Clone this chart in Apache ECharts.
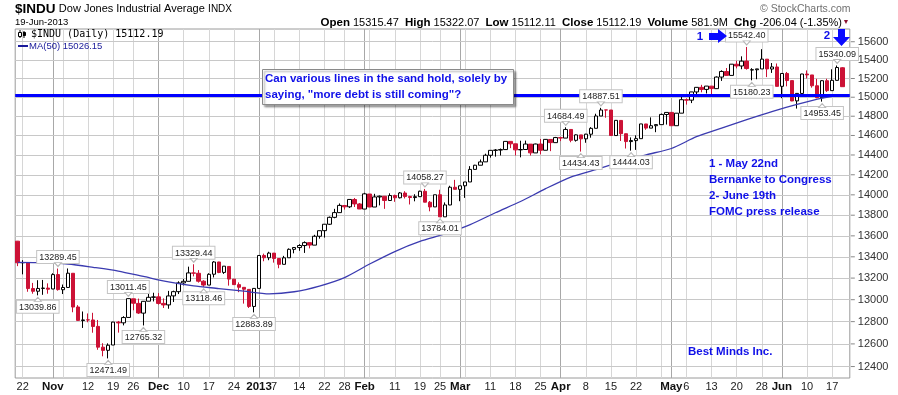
<!DOCTYPE html>
<html><head><meta charset="utf-8">
<script src="https://cdn.jsdelivr.net/npm/echarts@6/dist/echarts.min.js"></script>
<style>html,body{margin:0;padding:0;background:#fff}#c{width:898px;height:395px}</style>
</head><body><div id="c"></div>
<script>
const dates = [
'2012-10-19','2012-10-22','2012-10-23','2012-10-24','2012-10-25','2012-10-26','2012-10-31','2012-11-01','2012-11-02','2012-11-05',
'2012-11-06','2012-11-07','2012-11-08','2012-11-09','2012-11-12','2012-11-13','2012-11-14','2012-11-15','2012-11-16','2012-11-19',
'2012-11-20','2012-11-21','2012-11-23','2012-11-26','2012-11-27','2012-11-28','2012-11-29','2012-11-30','2012-12-03','2012-12-04',
'2012-12-05','2012-12-06','2012-12-07','2012-12-10','2012-12-11','2012-12-12','2012-12-13','2012-12-14','2012-12-17','2012-12-18',
'2012-12-19','2012-12-20','2012-12-21','2012-12-24','2012-12-26','2012-12-27','2012-12-28','2012-12-31','2013-01-02','2013-01-03',
'2013-01-04','2013-01-07','2013-01-08','2013-01-09','2013-01-10','2013-01-11','2013-01-14','2013-01-15','2013-01-16','2013-01-17',
'2013-01-18','2013-01-22','2013-01-23','2013-01-24','2013-01-25','2013-01-28','2013-01-29','2013-01-30','2013-01-31','2013-02-01',
'2013-02-04','2013-02-05','2013-02-06','2013-02-07','2013-02-08','2013-02-11','2013-02-12','2013-02-13','2013-02-14','2013-02-15',
'2013-02-19','2013-02-20','2013-02-21','2013-02-22','2013-02-25','2013-02-26','2013-02-27','2013-02-28','2013-03-01','2013-03-04',
'2013-03-05','2013-03-06','2013-03-07','2013-03-08','2013-03-11','2013-03-12','2013-03-13','2013-03-14','2013-03-15','2013-03-18',
'2013-03-19','2013-03-20','2013-03-21','2013-03-22','2013-03-25','2013-03-26','2013-03-27','2013-03-28','2013-04-01','2013-04-02',
'2013-04-03','2013-04-04','2013-04-05','2013-04-08','2013-04-09','2013-04-10','2013-04-11','2013-04-12','2013-04-15','2013-04-16',
'2013-04-17','2013-04-18','2013-04-19','2013-04-22','2013-04-23','2013-04-24','2013-04-25','2013-04-26','2013-04-29','2013-04-30',
'2013-05-01','2013-05-02','2013-05-03','2013-05-06','2013-05-07','2013-05-08','2013-05-09','2013-05-10','2013-05-13','2013-05-14',
'2013-05-15','2013-05-16','2013-05-17','2013-05-20','2013-05-21','2013-05-22','2013-05-23','2013-05-24','2013-05-28','2013-05-29',
'2013-05-30','2013-05-31','2013-06-03','2013-06-04','2013-06-05','2013-06-06','2013-06-07','2013-06-10','2013-06-11','2013-06-12',
'2013-06-13','2013-06-14','2013-06-17','2013-06-18','2013-06-19'];

const open = [
13548.9,13344,13344,13103,13078,13104,13107,13099,13233,13092,
13113,13245,12933,12810,12816,12815,12757,12571,12543,12590,
12795,12789,12838,13008,12966,12877,12986,13022,13026,12966,
12952,13035,13074,13155,13170,13248.5,13245,13171,13135,13236,
13351,13253,13309,13190,13139,13114,13095,12938,13104,13413,
13391,13435,13384,13329,13391,13471,13488,13507,13535,13511,
13596,13650,13712,13779,13825,13895,13882,13954,13910,13860,
14008,13880,13979,13986,13944,13993,13971,14018,13983,13973,
13982,14035,13927,13881,14001,13784,13900,14075,14054,14090,
14128,14254,14296,14330,14397,14447,14450,14455,14539,14514,
14452,14456,14511,14421,14512,14448,14559,14526,14578,14573,
14662,14550,14606,14565,14613,14674,14802,14866,14865,14599,
14756,14618,14537,14547,14567,14719,14676,14701,14712,14818,
14840,14701,14832,14974,14969,15056,15105,15083,15118,15091,
15215,15275,15233,15354,15335,15388,15291,15294,15303,15409,
15302,15324,15116,15254,15177,14961,15040,15248,15238,15122,
14995,15176,15070,15180,15315.47];

const high = [
13551,13368,13346,13155,13180,13183,13151,13245,13289.45,13140,
13290,13245,12950,12892,12874,12880,12815,12606,12605,12798,
12806,12849,13011.45,13008,13010,12987,13070,13064,13061,13012,
13081,13083,13170,13191,13307,13329.44,13275,13180,13245,13359,
13353,13312,13309,13191,13160,13115,13095,13104,13412.7,13430,
13448,13435,13384,13409,13480,13492,13520,13547,13535,13610,
13649.7,13713,13787,13862,13915,13899,13955,13969,13919,14020,
14008,14010,13993,13987,14015,14002,14028,14036,13990,14006,
14041,14058.27,13939,14001,14050,13925,14090,14149,14090,14128,
14287,14300,14354,14413,14448,14460,14466,14539.5,14539.5,14515,
14546,14547,14511,14516,14564,14563,14559,14585,14585,14684.49,
14662,14611,14606,14617,14686,14826,14887.51,14866,14865,14757,
14756,14619,14580,14601,14720,14720,14788,14713,14828,14840,
14840,14832,15010,14987,15056.5,15106,15132,15119,15119,15222,
15288,15313,15355,15392,15440,15542.4,15311,15304,15518,15409,
15367,15362,15255,15270,15177,15041,15250,15287,15238,15196,
15182,15197,15299,15340.09,15322.07];

const low = [
13312,13235,13073,13055,13039.86,13045,13055,13097,13083,13052,
13108,12885,12807,12743,12794,12700,12548,12490,12471.49,12590,
12701,12766,12838,12903,12870,12765.32,12986,12984,12955,12924,
12917,12979,13052,13132,13170,13216,13158,13118.46,13135,13206,
13246,13239,13130,13138,13069,12964,12924,12883.89,13104,13358,
13368,13345,13292,13329,13391,13433,13457,13437,13480,13511,
13573,13583,13705,13770,13825,13855,13870,13880,13860,13860,
13879,13880,13896,13862,13944,13931,13964,13964,13905,13936,
13978,13927,13838,13881,13784.01,13784,13898,14054,13937,13970,
14128,14254,14296,14330,14373,14383,14395,14455,14470,14395,
14376,14456,14395,14421,14406,14448,14439,14526,14542,14573,
14530,14537,14434.43,14525,14577,14674,14802,14784,14598,14599,
14543,14466,14444.03,14452,14567,14659,14676,14634,14712,14713,
14701,14701,14832,14922,14938,15016,15052,15040,15024,15089,
15174,15233,15233,15309,15300,15295,15180.23,15192,15303,15215,
15260,15115,14990,15116,14958,14880,15040,15200,15102,14990,
14953.45,15056,15070,15178,15112.11];

const close = [
13343.5,13345.9,13102.5,13077.3,13103.7,13107.2,13096.5,13232.6,13093.2,13112.4,
13245.7,12932.7,12811.3,12815.4,12815.1,12756.2,12571.0,12542.4,12588.3,12796.0,
12788.5,12836.9,13009.7,12967.4,12878.1,12985.1,13021.8,13025.6,12965.6,12951.8,
13034.5,13074.0,13155.1,13169.9,13248.4,13245.5,13170.7,13135.0,13235.4,13351.0,
13252.0,13311.7,13190.8,13139.1,13114.6,13096.3,12938.1,13104.1,13412.6,13391.4,
13435.2,13384.3,13328.9,13390.5,13471.2,13488.4,13507.3,13534.9,13511.2,13596.0,
13649.7,13712.2,13779.3,13825.3,13896.0,13881.9,13954.4,13910.4,13860.6,14009.8,
13880.1,13979.3,13986.5,13944.1,13993.0,13971.2,14018.7,13982.9,13973.4,13981.8,
14035.7,13927.5,13880.6,14000.6,13784.2,13900.1,14075.4,14054.5,14089.7,14127.8,
14253.8,14296.2,14329.5,14397.1,14447.3,14450.1,14455.3,14539.1,14514.1,14452.1,
14455.8,14511.7,14421.5,14512.0,14447.8,14559.7,14526.2,14578.5,14572.9,14662.0,
14550.4,14606.1,14565.3,14613.5,14673.5,14802.2,14865.1,14865.1,14599.2,14756.8,
14618.6,14537.1,14547.5,14567.2,14719.5,14676.3,14700.8,14712.6,14818.8,14839.8,
14701.0,14831.6,14974.0,14968.9,15056.2,15105.1,15082.6,15118.5,15091.7,15215.3,
15275.7,15233.2,15354.4,15335.3,15387.6,15307.2,15294.5,15303.1,15409.4,15302.8,
15324.5,15115.6,15254.0,15177.5,14960.6,15040.6,15248.1,15238.6,15122.0,14995.2,
15176.1,15070.2,15179.9,15318.2,15112.19];

// MA(50) at roughly weekly spacing
const maDates = ['2012-10-19','2012-10-26','2012-11-06','2012-11-13','2012-11-20','2012-11-28','2012-12-05','2012-12-12','2012-12-19','2012-12-27',
'2013-01-04','2013-01-11','2013-01-18','2013-01-28','2013-02-04','2013-02-11','2013-02-19','2013-02-26','2013-03-05','2013-03-12',
'2013-03-19','2013-03-26','2013-04-03','2013-04-10','2013-04-17','2013-04-24','2013-05-01','2013-05-08','2013-05-15','2013-05-22',
'2013-05-30','2013-06-06','2013-06-13','2013-06-19'];
const maValues = [13348,13345,13332,13301,13266,13215,13164,13127,13103,13078,
13054,13073,13126,13205,13332,13450,13546,13618,13708,13824,
13934,14061,14177,14252,14330,14402,14466,14587,14677,14765,
14849,14924,14990,15026.15];

const yTicks = [12400,12600,12800,13000,13200,13400,13600,13800,14000,14200,14400,14600,14800,15000,15200,15400,15600];
const xLabelDates = ['2012-10-22','2012-11-01','2012-11-12','2012-11-19','2012-11-26','2012-12-03','2012-12-10','2012-12-17','2012-12-24','2013-01-02',
'2013-01-07','2013-01-14','2013-01-22','2013-01-28','2013-02-01','2013-02-11','2013-02-19','2013-02-25','2013-03-01','2013-03-11',
'2013-03-18','2013-03-25','2013-04-01','2013-04-08','2013-04-15','2013-04-22','2013-05-01','2013-05-06','2013-05-13','2013-05-20',
'2013-05-28','2013-06-03','2013-06-10','2013-06-17'];
const xLabelTexts = ['22','Nov','12','19','26','Dec','10','17','24','2013','7','14','22','28','Feb','11','19','25','Mar','11','18','25','Apr','8','15','22','May','6','13','20','28','Jun','10','17'];
const monthStartDates = ['2012-11-01','2012-12-03','2013-01-02','2013-02-01','2013-03-01','2013-04-01','2013-05-01','2013-06-03'];
const weekStartDates = ['2012-10-22','2012-11-05','2012-11-12','2012-11-19','2012-11-26','2012-12-10','2012-12-17','2012-12-24','2013-01-07','2013-01-14',
'2013-01-22','2013-01-28','2013-02-04','2013-02-11','2013-02-19','2013-02-25','2013-03-04','2013-03-11','2013-03-18','2013-03-25',
'2013-04-08','2013-04-15','2013-04-22','2013-04-29','2013-05-06','2013-05-13','2013-05-20','2013-05-28','2013-06-10','2013-06-17'];

const noteDates = ['2012-11-02','2012-10-25','2012-11-16','2012-11-23','2012-11-28','2012-12-12','2012-12-14','2012-12-31','2013-02-20','2013-02-25',
'2013-04-02','2013-04-05','2013-04-11','2013-04-19','2013-05-22','2013-05-23','2013-06-13','2013-06-18'];
const noteValues = [13289.45,13039.86,12471.49,13011.45,12765.32,13329.44,13118.46,12883.89,14058.27,13784.01,
14684.49,14434.43,14887.51,14444.03,15542.40,15180.23,14953.45,15340.09];
const noteSides = ['high','low','low','high','low','high','low','low','high','low','high','low','high','low','high','low','low','high'];
const supportLevel = 15020;

const FONT = 'Liberation Sans';
const BLUE = '#1010e8';
const RED = '#cc1236';
const GRID_H = '#c8c8c8';
const GRID_W = '#d6d6d6';
const GRID_M = '#a8a8a8';

const chart = echarts.init(document.getElementById('c'), null, {renderer: 'canvas'});
const cats = dates.concat(['']);
const labelMap = {};
xLabelDates.forEach((d, i) => { labelMap[d] = xLabelTexts[i]; });
const weekSet = new Set(weekStartDates);
const monthSet = new Set(monthStartDates);
const candleData = dates.map((d, i) => [open[i], close[i], low[i], high[i]]);

const hLines = yTicks.map(v => ({ yAxis: v }));

const notes = noteDates.map((d, i) => ({
  coord: [d, noteValues[i]],
  value: noteValues[i].toFixed(2),
  label: { position: noteSides[i] === 'high' ? 'top' : 'bottom', distance: 5 }
}));
const pointers = noteDates.map((d, i) => ({
  coord: [d, noteValues[i]],
  symbolRotate: noteSides[i] === 'high' ? 180 : 0,
  symbolOffset: [0, noteSides[i] === 'high' ? -4 : 4]
}));

// helper axes whose inside ticks act as the vertical grid (crisp, pixel aligned)
function gridAxis(set, color) {
  return {
    type: 'category', data: cats, boundaryGap: true, position: 'bottom',
    axisLine: { show: false }, axisLabel: { show: false }, splitLine: { show: false },
    axisTick: { show: true, inside: true, length: 349, alignWithLabel: true,
      interval: (i, v) => set.has(v), lineStyle: { color: color, width: 1 } }
  };
}

const option = {
  animation: false,
  backgroundColor: '#ffffff',
  textStyle: { fontFamily: FONT },
  grid: { left: 15.2, top: 29, width: 834.6, height: 349, show: true, borderColor: '#9a9a9a', borderWidth: 1, backgroundColor: 'transparent' },
  xAxis: [
    {
      type: 'category', data: cats, boundaryGap: true, position: 'bottom',
      axisLine: { show: false }, axisTick: { show: false }, splitLine: { show: false },
      axisLabel: {
        interval: (i, v) => labelMap[v] !== undefined,
        formatter: v => { const t = labelMap[v]; if (t === undefined) return ''; return /^\d{1,2}$/.test(t) ? t : '{b|' + t + '}'; },
        margin: 3, fontSize: 11, color: '#222', fontFamily: FONT,
        rich: { b: { fontWeight: 'bold', fontSize: 11.5, color: '#111', fontFamily: FONT } }
      }
    },
    gridAxis(weekSet, GRID_W),
    gridAxis(monthSet, GRID_M)
  ],
  yAxis: {
    type: 'log', min: 12300, max: 15741, position: 'right',
    axisLabel: { show: false }, splitLine: { show: false }, axisLine: { show: false }, axisTick: { show: false }
  },
  series: [
    {
      name: 'grid', type: 'line', data: [], z: 1,
      markLine: {
        z: 1, silent: true, symbol: ['none', 'none'], animation: false,
        lineStyle: { type: 'solid', width: 1, color: GRID_H },
        label: {
          show: true, position: 'end', distance: 1,
          formatter: p => '{t|}{v|' + p.value + '}',
          rich: { t: { width: 4, height: 1, backgroundColor: '#888' }, v: { padding: [0, 0, 0, 3], fontSize: 11, color: '#333', fontFamily: FONT } }
        },
        data: hLines
      }
    },
    {
      name: '$INDU', type: 'candlestick', data: candleData, z: 2, barWidth: 4,
      itemStyle: { color: '#ffffff', color0: RED, borderColor: '#000000', borderColor0: RED, borderWidth: 1 },
      markPoint: {
        z: 10, silent: true, animation: false, symbol: 'circle', symbolSize: 1,
        itemStyle: { color: 'rgba(0,0,0,0)' },
        label: {
          show: true, formatter: p => p.value, fontSize: 9, fontFamily: FONT, color: '#222',
          backgroundColor: '#ffffff', borderColor: '#c4c4c4', borderWidth: 1, padding: [2, 2, 1, 2]
        },
        data: notes
      }
    },
    {
      name: 'MA(50)', type: 'line', data: maDates.map((d, i) => [d, maValues[i]]), z: 3,
      showSymbol: false, smooth: 0.25, lineStyle: { color: '#3b3bb0', width: 1.3 },
      markPoint: {
        z: 11, silent: true, animation: false, symbol: 'triangle', symbolSize: [7, 4],
        itemStyle: { color: '#ffffff', borderColor: '#b8b8b8', borderWidth: 1 },
        label: { show: false },
        data: pointers
      }
    },
    {
      name: 'support', type: 'line', data: [], z: 4,
      markLine: {
        z: 4, silent: true, symbol: ['none', 'none'], animation: false, label: { show: false },
        lineStyle: { type: 'solid', width: 3, color: '#0000ff' },
        data: [{ yAxis: supportLevel }]
      }
    }
  ],
  graphic: [
    { type: 'text', x: 15, y: 9, z: 100, style: { text: '{a|$INDU} {b|Dow Jones Industrial Average} {c|INDX}', verticalAlign: 'middle',
      rich: { a: { fontSize: 13.5, fontWeight: 'bold', fontFamily: FONT, fill: '#000' }, b: { fontSize: 11, fontFamily: FONT, fill: '#000' }, c: { fontSize: 10, fontFamily: FONT, fill: '#000' } } } },
    { type: 'text', x: 15, y: 22.5, z: 100, style: { text: '19-Jun-2013', fontSize: 9.5, fontFamily: FONT, fill: '#000', verticalAlign: 'middle' } },
    { type: 'text', x: 760, y: 9.5, z: 100, style: { text: '\u00A9 StockCharts.com', fontSize: 10.5, fontFamily: FONT, fill: '#707070', verticalAlign: 'middle' } },
    { type: 'text', x: 842, y: 22.5, z: 100, style: {
      text: '{b|Open} 15315.47  {b|High} 15322.07  {b|Low} 15112.11  {b|Close} 15112.19  {b|Volume} 581.9M  {b|Chg} -206.04 (-1.35%)',
      align: 'right', verticalAlign: 'middle', fontSize: 11, fontFamily: FONT, fill: '#000',
      rich: { b: { fontWeight: 'bold', fontSize: 11.5, fontFamily: FONT, fill: '#000' } } } },
    { type: 'text', x: 846, y: 22.5, z: 100, style: { text: '\u25BC', fontSize: 7, fill: '#8a1030', align: 'center', verticalAlign: 'middle' } },
    // legend
    { type: 'group', x: 18, y: 30, z: 100, children: [
      { type: 'line', shape: { x1: 2, y1: 0, x2: 2, y2: 8 }, style: { stroke: '#000', lineWidth: 1 } },
      { type: 'rect', shape: { x: 0.5, y: 2.5, width: 3, height: 4 }, style: { fill: '#fff', stroke: '#000', lineWidth: 1 } },
      { type: 'line', shape: { x1: 6, y1: 1, x2: 6, y2: 8 }, style: { stroke: '#000', lineWidth: 1 } },
      { type: 'rect', shape: { x: 4.5, y: 2.5, width: 3, height: 3 }, style: { fill: '#000', stroke: '#000', lineWidth: 1 } }
    ] },
    { type: 'text', x: 31, y: 34.5, z: 100, style: { text: '$INDU (Daily) 15112.19', fontSize: 10, fontFamily: 'DejaVu Sans Mono', fill: '#000', verticalAlign: 'middle' } },
    { type: 'line', z: 100, shape: { x1: 18, y1: 46, x2: 28, y2: 46 }, style: { stroke: '#1a1a9a', lineWidth: 2 } },
    { type: 'text', x: 29, y: 46, z: 100, style: { text: 'MA(50) 15026.15', fontSize: 9.5, fontFamily: FONT, fill: '#1a1a9a', verticalAlign: 'middle' } },
    // annotation box
    { type: 'rect', z: 100, shape: { x: 262.5, y: 69.5, width: 251, height: 35 },
      style: { fill: '#fff', stroke: '#8a8a8a', lineWidth: 1, shadowColor: 'rgba(0,0,0,0.35)', shadowOffsetX: 2, shadowOffsetY: 2, shadowBlur: 2 } },
    { type: 'text', x: 265, y: 79, z: 101, style: { text: 'Can various lines in the sand hold, solely by', fontSize: 11.5, fontWeight: 'bold', fontFamily: FONT, fill: BLUE, verticalAlign: 'middle' } },
    { type: 'text', x: 265, y: 95, z: 101, style: { text: 'saying, "more debt is still coming"?', fontSize: 11.5, fontWeight: 'bold', fontFamily: FONT, fill: BLUE, verticalAlign: 'middle' } },
    // event markers
    { type: 'text', x: 700, y: 37, z: 100, style: { text: '1', fontSize: 11.5, fontWeight: 'bold', fontFamily: FONT, fill: BLUE, align: 'center', verticalAlign: 'middle' } },
    { type: 'polygon', z: 100, shape: { points: [[709, 33], [718, 33], [718, 29], [727, 36], [718, 43], [718, 40], [709, 40]] }, style: { fill: '#0a0aff' } },
    { type: 'text', x: 827, y: 36, z: 100, style: { text: '2', fontSize: 11.5, fontWeight: 'bold', fontFamily: FONT, fill: BLUE, align: 'center', verticalAlign: 'middle' } },
    { type: 'polygon', z: 100, shape: { points: [[838, 29], [845, 29], [845, 37], [850, 37], [841.5, 46], [833, 37], [838, 37]] }, style: { fill: '#0a0aff' } },
    { type: 'text', x: 709, y: 164, z: 100, style: { text: '1 - May 22nd', fontSize: 11.5, fontWeight: 'bold', fontFamily: FONT, fill: BLUE, verticalAlign: 'middle' } },
    { type: 'text', x: 709, y: 180, z: 100, style: { text: 'Bernanke to Congress', fontSize: 11.5, fontWeight: 'bold', fontFamily: FONT, fill: BLUE, verticalAlign: 'middle' } },
    { type: 'text', x: 709, y: 196, z: 100, style: { text: '2- June 19th', fontSize: 11.5, fontWeight: 'bold', fontFamily: FONT, fill: BLUE, verticalAlign: 'middle' } },
    { type: 'text', x: 709, y: 212, z: 100, style: { text: 'FOMC press release', fontSize: 11.5, fontWeight: 'bold', fontFamily: FONT, fill: BLUE, verticalAlign: 'middle' } },
    { type: 'text', x: 688, y: 352, z: 100, style: { text: 'Best Minds Inc.', fontSize: 11.5, fontWeight: 'bold', fontFamily: FONT, fill: BLUE, verticalAlign: 'middle' } }
  ]
};
chart.setOption(option);
</script>
</body></html>
